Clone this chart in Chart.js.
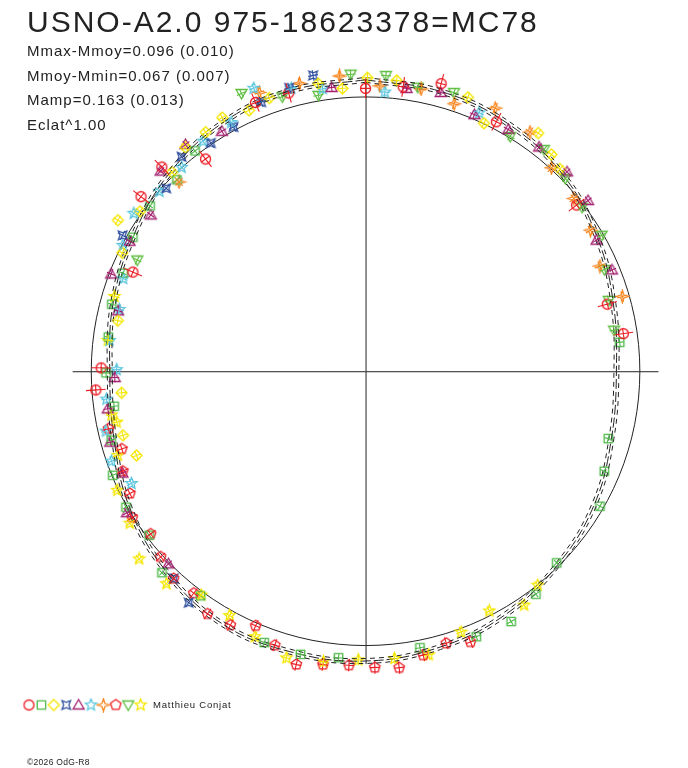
<!DOCTYPE html>
<html>
<head>
<meta charset="utf-8">
<title>USNO-A2.0 975-18623378=MC78</title>
<script src="https://cdn.jsdelivr.net/npm/chart.js@4.4.1/dist/chart.umd.min.js"></script>
<style>
html, body { margin: 0; padding: 0; background: #fff; }
#wrap { position: relative; width: 688px; height: 768px; overflow: hidden; }
#wrap canvas { position: absolute; left: 0; top: 0; }
.txt { position: absolute; font-family: 'Liberation Sans', Arial, sans-serif; color: #222; white-space: nowrap; line-height: 1; }
#titre { left: 27px; top: 7px; font-size: 30px; letter-spacing: 2px; }
#stats { left: 27px; top: 39px; font-size: 15px; letter-spacing: 1px; line-height: 24.7px; }
#auteur { left: 153px; top: 700px; font-size: 9.5px; letter-spacing: 0.8px; }
#copy { left: 27px; top: 758px; font-size: 8.5px; letter-spacing: 0.3px; }
</style>
</head>
<body>
<div id="wrap">
  <canvas id="courbe" width="688" height="768"></canvas>
  <div class="txt" id="titre">USNO-A2.0 975-18623378=MC78</div>
  <div class="txt" id="stats">Mmax-Mmoy=0.096 (0.010)<br>Mmoy-Mmin=0.067 (0.007)<br>Mamp=0.163 (0.013)<br>Eclat^1.00</div>
  <div class="txt" id="auteur">Matthieu Conjat</div>
  <div class="txt" id="copy">©2026 OdG-R8</div>
</div>
<script>
// Courbe ajustée : phase et écart en magnitude par rapport à Mmoy (lu tous les 15°)
const fitPhase = [0, 0.042, 0.083, 0.125, 0.167, 0.208, 0.25, 0.292, 0.333, 0.375, 0.417, 0.458,
                  0.5, 0.542, 0.583, 0.625, 0.667, 0.708, 0.75, 0.792, 0.833, 0.875, 0.917, 0.958];
const fitDm = [-0.067, -0.060, -0.044, -0.016, 0.028, 0.071, 0.095, 0.079, 0.040, 0.008, -0.024, -0.044,
               -0.060, -0.063, -0.063, -0.032, 0.008, 0.056, 0.075, 0.052, 0.024, -0.016, -0.048, -0.063];
const fitErr = 0.010;

// Mesures par nuit (phase, écart en magnitude)
const ph1 = [0.000, 0.021, 0.041, 0.077, 0.144, 0.207, 0.227, 0.739, 0.752, 0.814, 0.855, 0.875, 0.897, 0.938, 0.957];
const dm1 = [-0.032, -0.048, -0.091, -0.028, 0.024, 0.095, 0.056, 0.016, 0.040, 0.087, -0.040, -0.056, 0.036, -0.063, -0.056];

const ph2 = [0.232, 0.293, 0.313, 0.333, 0.375, 0.396, 0.416, 0.437, 0.469, 0.515, 0.536, 0.557, 0.601, 0.626,
             0.647, 0.668, 0.688, 0.708, 0.728, 0.749, 0.771, 0.791, 0.811, 0.833, 0.854, 0.876, 0.895];
const dm2 = [0.075, 0.091, 0.063, 0.016, 0.016, -0.024, -0.060, -0.052, -0.028, -0.052, -0.063, -0.060, -0.016, -0.048,
             0.012, -0.004, 0.004, 0.044, 0.083, 0.060, 0.060, 0.048, 0.052, 0.024, 0.012, 0.024, -0.016];

const ph3 = [0.001, 0.017, 0.057, 0.071, 0.100, 0.113, 0.122, 0.694, 0.709, 0.736, 0.782, 0.822, 0.837, 0.848,
             0.877, 0.892, 0.906, 0.918, 0.933, 0.946, 0.974, 0.987];
const dm3 = [-0.075, -0.071, -0.071, 0.000, -0.079, -0.044, -0.024, 0.123, 0.095, 0.119, 0.087, 0.016, -0.063, -0.008,
             -0.012, -0.052, -0.052, -0.067, -0.044, -0.060, -0.067, -0.036];

const ph4 = [0.604, 0.619, 0.831, 0.868, 0.887, 0.905, 0.921, 0.941, 0.958, 0.972];
const dm4 = [-0.067, -0.032, -0.016, 0.016, -0.032, -0.004, -0.012, -0.056, -0.075, -0.103];

const ph5 = [0.023, 0.042, 0.064, 0.085, 0.105, 0.126, 0.146, 0.168, 0.188, 0.627, 0.665, 0.687, 0.707, 0.727,
             0.746, 0.788, 0.808, 0.830, 0.850, 0.873, 0.893, 0.914, 0.981];
const dm5 = [-0.044, -0.056, -0.016, -0.024, -0.036, -0.036, -0.024, 0.036, 0.032, -0.004, -0.012, 0.044, 0.038, 0.056,
             0.095, 0.079, 0.008, 0.020, 0.036, -0.048, -0.060, -0.020, -0.044];

const ph6 = [0.011, 0.066, 0.679, 0.696, 0.714, 0.733, 0.751, 0.769, 0.789, 0.808, 0.826, 0.845, 0.864, 0.883,
             0.902, 0.921, 0.940, 0.959, 0.976];
const dm6 = [-0.020, -0.030, 0.060, 0.020, 0.032, 0.056, 0.103, 0.067, 0.083, 0.060, 0.004, -0.024, 0.004, 0.000,
             -0.028, -0.032, -0.119, -0.071, -0.044];

const ph7 = [0.008, 0.031, 0.051, 0.073, 0.096, 0.118, 0.140, 0.161, 0.183, 0.205, 0.876, 0.942, 0.964, 0.986];
const dm7 = [-0.044, -0.052, -0.028, -0.075, -0.063, -0.004, 0.016, 0.036, 0.071, 0.028, 0.036, -0.095, -0.083, -0.087];

const ph8 = [0.441, 0.454, 0.468, 0.482, 0.495, 0.509, 0.523, 0.537, 0.551, 0.565, 0.578, 0.592, 0.605, 0.619,
             0.633, 0.647, 0.661, 0.674, 0.688, 0.701, 0.715];
const dm8 = [-0.063, -0.036, -0.060, -0.095, -0.087, -0.079, -0.087, -0.107, -0.056, -0.010, -0.052, -0.060, -0.024, -0.032,
             -0.008, 0.020, -0.004, 0.036, 0.048, 0.075, 0.044];

const ph9 = [0.011, 0.029, 0.049, 0.088, 0.108, 0.128, 0.147, 0.167, 0.186, 0.205, 0.224, 0.822, 0.933, 0.953, 0.973, 0.992];
const dm9 = [-0.087, -0.056, -0.071, -0.004, -0.040, -0.012, 0.012, 0.008, 0.060, 0.085, 0.091, 0.083, -0.119, -0.048, -0.020, -0.091];

const ph10 = [0.392, 0.405, 0.424, 0.444, 0.465, 0.484, 0.504, 0.523, 0.543, 0.563, 0.581, 0.601, 0.620, 0.640,
              0.659, 0.679, 0.698, 0.718, 0.723, 0.769, 0.796];
const dm10 = [0.000, -0.032, 0.020, -0.012, -0.063, -0.056, -0.056, -0.075, -0.091, -0.052, -0.020, -0.012, -0.067, -0.079,
              -0.024, -0.004, 0.052, 0.083, 0.067, 0.060, 0.050];

// Erreur type (mag) de chaque nuit
const nightErr = [0.040, 0.015, 0.020, 0.022, 0.018, 0.020, 0.022, 0.025, 0.018, 0.022];

// Échelle du diagramme polaire : rayon du cercle moyen et unités par magnitude
const R_MEAN = 280;
const MAG_SCALE = 252;

// Conversion phase / magnitude -> coordonnées (phase 0 en haut, sens horaire, brillant vers l'extérieur)
function toXY(phase, dm) {
    const a = phase * 2 * Math.PI;
    const r = R_MEAN - MAG_SCALE * dm;
    return { x: r * Math.sin(a), y: r * Math.cos(a) };
}

function curvePoints(offset) {
    const pts = fitPhase.map((p, i) => toXY(p, fitDm[i] + offset));
    pts.push(pts[0]);
    return pts;
}

// Dessin des symboles
function polyPts(n, ro, ri, rot) {
    const pts = [];
    const steps = ri ? n * 2 : n;
    for (let i = 0; i < steps; i++) {
        const r = (ri && i % 2) ? ri : ro;
        const a = rot + i * Math.PI * 2 / steps;
        pts.push([r * Math.sin(a), -r * Math.cos(a)]);
    }
    return pts;
}

function makeSprite(shape, color) {
    const s = 15, c = 7.5;
    const cv = document.createElement('canvas');
    cv.width = s; cv.height = s;
    const g = cv.getContext('2d');
    g.strokeStyle = color;
    g.lineWidth = 1.3;
    g.beginPath();
    let pts = null;
    if (shape === 'circle') g.arc(c, c, 5, 0, 2 * Math.PI);
    else if (shape === 'square') g.rect(c - 4.2, c - 4.2, 8.4, 8.4);
    else if (shape === 'diamond') pts = polyPts(4, 5.5, 0, 0);
    else if (shape === 'star4x') pts = polyPts(4, 6, 2.6, Math.PI / 4);
    else if (shape === 'triangle') pts = [[0, -5.5], [5.5, 4], [-5.5, 4]];
    else if (shape === 'star5') pts = polyPts(5, 6, 2.7, 0);
    else if (shape === 'star4') pts = polyPts(4, 6.3, 2.1, 0);
    else if (shape === 'pentagon') pts = polyPts(5, 5.5, 0, 0);
    else if (shape === 'invtri') pts = [[-5.5, -4], [5.5, -4], [0, 5.5]];
    if (pts) {
        pts.forEach((p, i) => i ? g.lineTo(c + p[0], c + p[1]) : g.moveTo(c + p[0], c + p[1]));
        g.closePath();
    }
    g.stroke();
    return cv;
}

const nightShapes = ['circle', 'square', 'diamond', 'star4x', 'triangle', 'star5', 'star4', 'pentagon', 'invtri', 'star5'];
const nightColors = ['#ec1c24', '#4db848', '#f5e600', '#2e4f9e', '#a3206f', '#5cc6de', '#f7861f', '#ec1c24', '#5cbd3e', '#f5e600'];
const nightPhases = [ph1, ph2, ph3, ph4, ph5, ph6, ph7, ph8, ph9, ph10];
const nightDms = [dm1, dm2, dm3, dm4, dm5, dm6, dm7, dm8, dm9, dm10];
const sprites = nightShapes.map((s, i) => makeSprite(s, nightColors[i]));

const datasets = [
    { label: 'fit-', data: curvePoints(-fitErr), borderDash: [5, 4] },
    { label: 'fit', data: curvePoints(0), borderDash: [10, 3] },
    { label: 'fit+', data: curvePoints(fitErr), borderDash: [5, 4] }
].map(d => Object.assign(d, {
    showLine: true, pointRadius: 0, borderColor: '#222', borderWidth: 1, tension: 0.4, fill: false
}));

nightPhases.forEach((phs, i) => {
    datasets.push({
        label: 'nuit ' + (i + 1),
        data: phs.map((p, k) => toXY(p, nightDms[i][k])),
        showLine: false,
        pointStyle: sprites[i],
        pointRadius: 6,
        borderColor: nightColors[i],
        nightIndex: i
    });
});

// Axes en croix et cercle moyen
const fondPolaire = {
    id: 'fondPolaire',
    beforeDatasetsDraw(chart) {
        const { ctx, scales: { x, y } } = chart;
        const cx = x.getPixelForValue(0), cy = y.getPixelForValue(0);
        const unit = x.getPixelForValue(1) - cx;
        const ext = 299 * unit;
        ctx.save();
        ctx.strokeStyle = '#222';
        ctx.lineWidth = 1;
        ctx.beginPath();
        ctx.moveTo(cx - ext, cy + 0.5); ctx.lineTo(cx + ext, cy + 0.5);
        ctx.moveTo(cx + 0.5, cy - ext); ctx.lineTo(cx + 0.5, cy + ext);
        ctx.stroke();
        ctx.beginPath();
        ctx.arc(cx, cy, R_MEAN * unit, 0, 2 * Math.PI);
        ctx.stroke();
        ctx.restore();
    }
};

// Barres d'erreur radiales
const barresErreur = {
    id: 'barresErreur',
    afterDatasetsDraw(chart) {
        const { ctx, scales: { x, y } } = chart;
        const cx = x.getPixelForValue(0), cy = y.getPixelForValue(0);
        const unit = x.getPixelForValue(1) - cx;
        chart.data.datasets.forEach((ds, i) => {
            if (ds.nightIndex === undefined) return;
            const a = nightErr[ds.nightIndex] * MAG_SCALE * unit;
            const b = 5;
            ctx.save();
            ctx.strokeStyle = ds.borderColor;
            ctx.lineWidth = 1.1;
            chart.getDatasetMeta(i).data.forEach(pt => {
                const dx = pt.x - cx, dy = pt.y - cy;
                const d = Math.hypot(dx, dy);
                const ux = dx / d, uy = dy / d;
                ctx.beginPath();
                ctx.moveTo(pt.x - ux * a, pt.y - uy * a);
                ctx.lineTo(pt.x + ux * a, pt.y + uy * a);
                ctx.moveTo(pt.x + uy * b, pt.y - ux * b);
                ctx.lineTo(pt.x - uy * b, pt.y + ux * b);
                ctx.stroke();
            });
            ctx.restore();
        });
    }
};

// Légende des symboles en bas
const legendeSymboles = {
    id: 'legendeSymboles',
    afterDraw(chart) {
        const ctx = chart.ctx;
        sprites.forEach((sp, i) => {
            ctx.drawImage(sp, 29 + i * 12.4 - sp.width / 2, 705 - sp.height / 2);
        });
    }
};

new Chart(document.getElementById('courbe'), {
    type: 'scatter',
    data: { datasets: datasets },
    options: {
        responsive: false,
        animation: false,
        layout: { padding: 0 },
        scales: {
            x: { type: 'linear', min: -366, max: 322, display: false },
            y: { type: 'linear', min: -397, max: 371, display: false }
        },
        plugins: {
            legend: { display: false },
            tooltip: { enabled: false }
        }
    },
    plugins: [fondPolaire, barresErreur, legendeSymboles]
});
</script>
</body>
</html>
